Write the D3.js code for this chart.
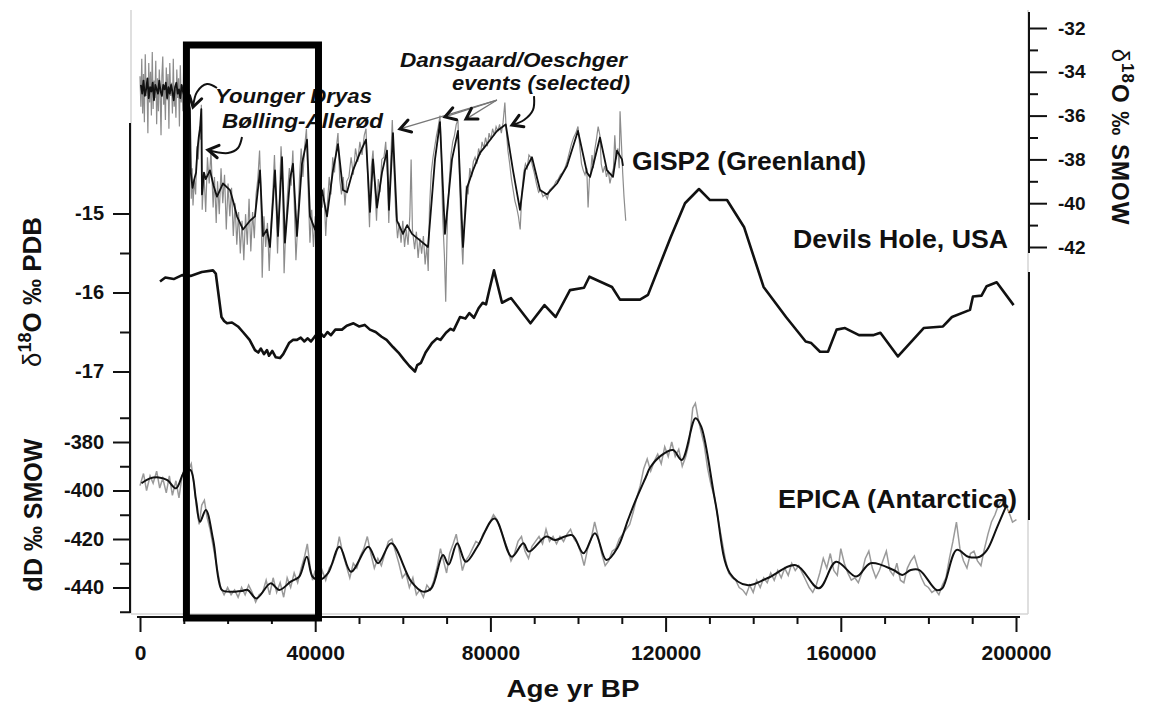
<!DOCTYPE html>
<html>
<head>
<meta charset="utf-8">
<script src="https://cdn.jsdelivr.net/npm/d3@7"></script>
<style>
  html, body { margin: 0; padding: 0; background: #fff; }
  svg { display: block; }
  text { font-family: "Liberation Sans", Arial, sans-serif; }
</style>
</head>
<body>
<svg id="chart" width="1149" height="704"></svg>
<script>
// ---------- data: [age yr BP, value] ----------

// GISP2 (Greenland) δ18O ‰ SMOW, raw record
const gispRaw = [
  [0,-34.2],[200,-35.6],[400,-33.4],[600,-35.9],[800,-34.1],[1000,-36.3],[1200,-33.2],[1400,-35.1],[1600,-34.6],[1800,-36.8],
  [2000,-33.6],[2200,-35.4],[2400,-34.0],[2600,-36.0],[2800,-33.1],[3000,-35.7],[3200,-34.4],[3400,-35.2],[3600,-33.5],[3800,-36.4],
  [4000,-34.3],[4200,-35.8],[4400,-33.9],[4600,-35.0],[4800,-36.9],[5000,-34.2],[5200,-33.3],[5400,-35.5],[5600,-34.7],[5800,-36.2],
  [6000,-33.8],[6200,-35.3],[6400,-34.1],[6600,-36.6],[6800,-33.6],[7000,-35.1],[7200,-34.5],[7400,-35.9],[7600,-33.4],[7800,-35.6],
  [8000,-34.8],[8200,-36.1],[8400,-33.9],[8600,-35.2],[8800,-34.3],[9000,-36.5],[9200,-33.7],[9400,-35.4],[9600,-34.6],[9800,-35.8],
  [10000,-33.5],[10200,-36.0],[10400,-34.9],[10600,-35.3],[10800,-34.2],[11000,-36.7],[11200,-34.8],
  [11300,-35.2],[11500,-37.5],[11700,-39.8],[11900,-38.4],[12100,-40.1],[12400,-38.9],[12700,-39.6],[13000,-37.4],[13300,-38.0],[13600,-36.5],
  [13900,-37.1],[14000,-35.5],[14100,-36.4],[14200,-40.3],[14600,-38.6],[15000,-40.4],[15400,-37.9],[15800,-39.1],[16200,-37.6],[16700,-40.2],
  [17000,-38.8],[17400,-40.9],[17700,-39.0],[18100,-40.5],[18500,-38.4],[18900,-40.0],[19300,-38.7],[19700,-41.2],[20100,-39.1],[20500,-40.6],
  [20900,-39.3],[21300,-41.5],[21700,-40.0],[22100,-41.9],[22500,-40.4],[22900,-42.3],[23300,-40.8],[23700,-42.6],[24100,-40.5],[24500,-41.9],
  [24900,-39.8],[25300,-42.2],[25700,-40.4],[26100,-41.6],[26500,-39.6],[26900,-38.9],[27300,-37.6],[27600,-39.4],[27900,-43.4],[28300,-40.6],
  [28700,-42.0],[29100,-40.9],[29500,-43.1],[29900,-41.0],[30300,-39.6],[30700,-37.8],[31000,-39.5],[31400,-42.3],[31800,-40.0],[32200,-37.4],
  [32500,-38.6],[32900,-43.2],[33300,-41.0],[33700,-39.5],[34100,-38.4],[34500,-39.2],[34900,-37.6],[35200,-39.9],[35600,-42.6],[36000,-41.0],
  [36400,-38.9],[36800,-37.5],[37200,-38.8],[37600,-37.4],[38000,-36.6],[38400,-39.4],[38800,-41.8],[39200,-40.3],[39600,-42.0],[40000,-40.6],
  [40400,-41.9],[40800,-39.6],[41200,-38.9],[41600,-40.2],[42000,-39.3],[42400,-41.5],[42800,-40.0],[43200,-38.8],[43600,-39.6],[44000,-37.9],
  [44400,-38.6],[44800,-37.5],[45200,-36.8],[45600,-38.9],[46000,-39.6],[46400,-38.8],[46800,-40.1],[47200,-39.0],[47700,-38.8],[48200,-37.9],
  [48700,-38.7],[49200,-37.5],[49700,-38.1],[50200,-37.2],[50700,-37.8],[51200,-36.9],[51600,-36.6],[52000,-38.9],[52400,-41.1],[52800,-38.4],
  [53200,-37.6],[53600,-39.2],[54000,-40.8],[54400,-38.9],[54800,-39.5],[55200,-38.0],[55700,-37.9],[56100,-37.2],[56500,-38.8],[56800,-40.9],
  [57200,-38.3],[57600,-36.2],[58000,-38.5],[58400,-40.5],[58800,-41.6],[59200,-40.9],[59600,-41.8],[60000,-40.8],[60400,-42.0],[60800,-41.2],
  [61200,-41.9],[61600,-40.6],[61900,-38.0],[62200,-41.2],[62700,-42.1],[63100,-41.3],[63500,-42.5],[63900,-41.6],[64300,-42.3],[64700,-41.5],
  [65100,-42.8],[65500,-41.9],[65800,-43.1],[66100,-40.2],[66500,-38.6],[66900,-37.9],[67300,-37.4],[67700,-36.9],[68100,-36.5],[68500,-36.0],
  [68800,-37.8],[69100,-40.6],[69500,-42.4],[69800,-44.5],[70200,-40.5],[70600,-39.0],[71000,-37.8],[71400,-37.2],[71800,-36.9],[72200,-36.4],
  [72600,-36.2],[72900,-38.6],[73300,-41.1],[73700,-42.8],[74100,-40.6],[74500,-39.2],[74900,-39.6],[75300,-38.4],[75700,-38.8],[76100,-38.1],
  [76500,-37.9],[76900,-38.2],[77300,-37.5],[77700,-37.8],[78100,-37.2],[78500,-37.5],[78900,-37.0],[79300,-37.4],[79700,-36.8],[80100,-37.1],
  [80500,-36.6],[80900,-36.9],[81300,-36.5],[81700,-36.7],[82100,-36.4],[82500,-36.8],[82900,-36.3],[83300,-35.4],[83600,-36.6],[84000,-37.6],
  [84400,-38.2],[84800,-38.9],[85200,-39.4],[85600,-39.9],[86000,-40.2],[86400,-40.6],[86800,-41.2],[87200,-39.5],[87600,-38.6],[88000,-38.2],
  [88400,-38.4],[88800,-37.8],[89200,-37.9],[89600,-38.3],[90000,-38.6],[90500,-39.1],[91000,-39.5],[91500,-39.4],[92000,-39.7],[92500,-39.6],
  [93000,-39.8],[93500,-39.4],[94000,-39.3],[94500,-39.2],[95000,-39.0],[95500,-38.9],[96000,-38.7],[96500,-38.6],[97000,-38.4],[97500,-38.1],
  [98000,-37.7],[98500,-37.3],[99000,-37.0],[99500,-36.8],[100000,-36.5],[100400,-37.4],[100800,-38.2],[101200,-38.5],[101600,-38.7],[102000,-38.4],
  [102300,-40.2],[102600,-38.9],[102900,-38.6],[103200,-37.8],[103500,-38.4],[103800,-37.6],[104200,-37.1],[104600,-36.5],[105000,-36.9],[105300,-38.2],
  [105700,-38.6],[106100,-38.3],[106500,-38.8],[106900,-38.5],[107300,-39.1],[107700,-38.7],[108100,-38.4],[108400,-36.9],[108700,-38.0],[109100,-37.5],
  [109400,-38.4],[109600,-35.8],[109900,-37.2],[110200,-38.6],[110500,-39.7],[110900,-40.8]
];

// GISP2 smoothed curve
const gispSmooth = [
  [200,-34.6],[500,-35.0],[800,-34.4],[1100,-35.1],[1400,-34.8],[1700,-34.3],[2000,-35.2],[2300,-34.7],[2600,-34.9],[2900,-34.5],
  [3200,-35.3],[3500,-34.6],[3800,-34.8],[4100,-35.0],[4400,-34.4],[4700,-34.9],[5000,-35.1],[5300,-34.6],[5600,-34.8],[5900,-34.5],
  [6200,-35.2],[6500,-34.7],[6800,-35.0],[7100,-34.6],[7400,-34.9],[7700,-35.3],[8000,-34.7],[8300,-34.5],[8600,-35.0],[8900,-34.8],
  [9200,-35.2],[9500,-34.6],[9800,-34.9],[10100,-35.1],[10400,-34.7],[10700,-35.0],[11000,-35.3],
  [11400,-35.7],[11600,-38.6],[12000,-39.3],[12400,-38.9],[12800,-38.6],[13100,-37.6],[13400,-37.0],[13700,-36.6],[14000,-35.7],
  [14150,-39.6],[14600,-38.6],[15000,-38.9],[15980,-38.5],[16800,-39.2],[17580,-39.7],[18950,-39.1],[20550,-39.4],[21400,-40.0],[22150,-40.6],
  [23510,-41.2],[25110,-40.8],[26250,-40.6],[27400,-38.5],[28080,-41.5],[28990,-41.2],[29680,-42.0],[30820,-38.5],[31510,-41.5],[32420,-37.9],
  [33100,-41.8],[34250,-38.9],[34930,-38.2],[35840,-41.5],[36980,-38.2],[38130,-37.1],[38810,-40.6],[39950,-41.2],[41550,-39.4],[42690,-40.6],
  [44060,-38.5],[45200,-37.3],[46340,-39.4],[47260,-39.5],[48630,-38.5],[50230,-37.7],[51600,-37.1],[52510,-40.4],[53190,-38.0],[54110,-40.2],
  [55250,-38.6],[56390,-37.6],[56850,-40.3],[57760,-36.8],[58670,-40.8],[60040,-41.4],[61000,-41.0],[62100,-41.4],[63920,-41.7],[65750,-42.0],
  [67350,-38.0],[68490,-36.3],[69630,-41.4],[71230,-38.0],[72600,-36.7],[73740,-42.0],[74650,-39.3],[76020,-38.5],[77620,-37.7],[79220,-37.3],
  [81500,-36.7],[82870,-36.5],[83500,-36.4],[85160,-38.5],[86750,-40.3],[87900,-38.5],[89490,-37.9],[91320,-39.4],[92920,-39.6],[95200,-39.1],
  [97480,-38.3],[99990,-36.7],[102050,-38.6],[102740,-38.8],[103420,-38.3],[105020,-37.0],[106620,-38.5],[107990,-38.8],[108900,-37.6],[110040,-38.0],
  [110270,-38.3]
];

// Devils Hole, USA δ18O ‰ PDB
const devilsHole = [
  [4570,-15.86],[5780,-15.81],[7700,-15.83],[9610,-15.78],[11530,-15.79],[14110,-15.74],[16670,-15.72],[17300,-15.76],[18600,-16.31],[19200,-16.36],
  [19860,-16.39],[21000,-16.38],[22370,-16.43],[23500,-16.50],[25020,-16.60],[26250,-16.73],[27000,-16.76],[27600,-16.71],[28300,-16.78],[29000,-16.73],
  [29450,-16.80],[30200,-16.74],[31000,-16.82],[31960,-16.83],[32700,-16.78],[34020,-16.64],[34900,-16.60],[35840,-16.60],[36700,-16.57],[37500,-16.62],
  [38300,-16.58],[39040,-16.62],[40000,-16.55],[41090,-16.51],[42000,-16.56],[42800,-16.50],[43600,-16.54],[44600,-16.47],[46100,-16.47],[47200,-16.42],
  [48740,-16.39],[50000,-16.43],[51300,-16.41],[52500,-16.47],[53800,-16.50],[55160,-16.56],[56300,-16.60],[57760,-16.69],[59000,-16.76],[60270,-16.85],
  [61500,-16.93],[62780,-17.00],[63300,-16.92],[64150,-16.89],[65200,-16.76],[66660,-16.64],[67800,-16.58],[68600,-16.60],[69860,-16.51],[70900,-16.46],
  [71600,-16.48],[73060,-16.31],[74300,-16.33],[75200,-16.26],[76250,-16.32],[77300,-16.20],[78240,-16.13],[79000,-16.15],[79700,-15.98],[80820,-15.72],
  [82650,-16.13],[84700,-16.07],[89150,-16.39],[92350,-16.16],[94900,-16.31],[98170,-15.97],[101370,-15.94],[102600,-15.80],[107760,-15.93],[109590,-16.09],
  [114150,-16.09],[115980,-16.03],[121230,-15.29],[124430,-14.87],[127620,-14.69],[130130,-14.83],[134020,-14.83],[137900,-15.17],[142370,-15.93],[147490,-16.31],
  [151980,-16.62],[153260,-16.64],[155250,-16.75],[157080,-16.75],[159040,-16.47],[160960,-16.45],[164150,-16.54],[167350,-16.54],[169040,-16.51],[173050,-16.81],
  [178920,-16.45],[183330,-16.43],[185380,-16.31],[189490,-16.22],[190170,-16.05],[192130,-16.04],[193300,-15.92],[195590,-15.87],[199450,-16.16]
];

// EPICA (Antarctica) dD ‰ SMOW, raw record
const epicaRaw = [
  [0,-398],[800,-393],[1500,-400],[2300,-394],[3000,-397],[3800,-392],[4500,-399],[5200,-395],[6000,-401],[6700,-394],
  [7400,-402],[8200,-396],[8900,-403],[9600,-394],[10300,-390],[11000,-392],[11700,-389],[12300,-397],[12900,-407],[13500,-414],
  [14100,-406],[14700,-404],[15300,-411],[16000,-416],[16800,-424],[17600,-432],[18400,-440],[19200,-443],[20000,-440],[20800,-443],
  [21600,-441],[22400,-444],[23200,-440],[24000,-443],[24800,-439],[25600,-442],[26400,-446],[27200,-443],[28000,-442],[28800,-437],
  [29600,-443],[30400,-436],[31200,-442],[32000,-438],[32800,-444],[33600,-436],[34400,-440],[35200,-434],[36000,-438],[36800,-432],
  [37600,-427],[38200,-422],[38800,-431],[39400,-437],[40000,-433],[40800,-440],[41600,-433],[42400,-437],[43200,-432],[44000,-430],
  [44800,-426],[45500,-419],[46300,-426],[47100,-431],[47900,-436],[48700,-430],[49500,-432],[50300,-427],[51100,-424],[51900,-419],
  [52700,-426],[53500,-432],[54300,-428],[55100,-431],[55900,-426],[56700,-421],[57500,-420],[58300,-425],[59100,-430],[59900,-436],
  [60700,-434],[61500,-440],[62300,-436],[63100,-443],[63900,-441],[64700,-444],[65500,-439],[66300,-441],[67100,-437],[67900,-431],
  [68600,-424],[69300,-429],[70000,-434],[70700,-426],[71500,-422],[72200,-418],[72900,-425],[73600,-433],[74300,-429],[75100,-427],
  [75900,-424],[76700,-421],[77500,-422],[78300,-418],[79100,-416],[79900,-413],[80700,-410],[81500,-412],[82300,-416],[83100,-420],
  [83900,-424],[84700,-429],[85500,-426],[86300,-421],[87100,-419],[87900,-425],[88700,-428],[89500,-423],[90300,-421],[91100,-419],
  [91900,-422],[92700,-416],[93500,-421],[94300,-419],[95100,-422],[95900,-419],[96700,-421],[97500,-418],[98300,-416],[99100,-420],
  [99900,-422],[100700,-426],[101400,-431],[102200,-424],[103000,-420],[103800,-413],[104600,-419],[105400,-426],[106200,-431],[107000,-429],
  [107800,-425],[108600,-424],[109400,-420],[110200,-418],[111000,-416],[111800,-414],[112600,-409],[113400,-403],[114200,-398],[115000,-391],
  [115800,-387],[116600,-392],[117400,-388],[118200,-385],[119000,-389],[119800,-382],[120600,-386],[121400,-380],[122200,-386],[123000,-383],
  [123800,-390],[124600,-386],[125400,-380],[126200,-366],[126800,-364],[127400,-370],[128000,-375],[128800,-381],[129600,-391],[130400,-398],
  [131200,-403],[132000,-412],[132800,-420],[133600,-428],[134400,-434],[135200,-436],[136000,-437],[136800,-440],[137600,-441],[138400,-443],
  [139200,-439],[140000,-442],[140800,-437],[141600,-440],[142400,-436],[143200,-438],[144000,-434],[144800,-437],[145600,-433],[146400,-436],
  [147200,-432],[148000,-435],[148800,-430],[149600,-433],[150400,-431],[151200,-434],[152000,-437],[152800,-440],[153600,-442],[154400,-439],
  [155200,-434],[156000,-428],[156800,-432],[157600,-426],[158400,-433],[159200,-435],[160000,-424],[160800,-430],[161600,-434],[162400,-437],
  [163200,-436],[164000,-438],[164800,-434],[165600,-428],[166400,-425],[167200,-432],[168000,-436],[168800,-433],[169600,-429],[170400,-425],
  [171200,-433],[172000,-435],[172800,-430],[173600,-437],[174400,-438],[175200,-432],[176000,-429],[176800,-427],[177600,-432],[178400,-436],
  [179200,-439],[180000,-440],[180800,-442],[181600,-441],[182400,-443],[183200,-439],[184000,-436],[184800,-428],[185600,-421],[186400,-413],
  [187200,-424],[188000,-429],[188800,-432],[189600,-426],[190400,-425],[191200,-429],[192000,-431],[192800,-424],[193600,-418],[194400,-413],
  [195200,-410],[196000,-406],[196800,-404],[197600,-406],[198400,-409],[199200,-413],[200100,-412]
];

// EPICA smoothed curve
const epicaSmooth = [
  [340,-397.0],[2280,-395.0],[4270,-394.6],[6240,-395.7],[8220,-399.1],[10160,-392.2],[11490,-391.5],[12790,-403.9],[13700,-412.9],[15030,-408.0],
  [16710,-420.4],[18680,-441.0],[20000,-441.7],[23290,-441.4],[24590,-441.0],[26550,-444.5],[29820,-438.3],[31800,-441.0],[34410,-437.6],[36370,-435.5],
  [38080,-427.3],[39380,-435.5],[40960,-436.9],[42920,-434.1],[45550,-423.2],[48170,-433.5],[52100,-423.2],[54340,-430.0],[57350,-421.8],[61940,-437.6],
  [64560,-441.7],[66530,-440.3],[69160,-426.6],[70460,-430.5],[72420,-421.8],[74390,-429.4],[77010,-423.2],[80940,-411.5],[84870,-427.3],[87490,-421.8],
  [88810,-425.2],[92740,-419.0],[94700,-420.4],[98630,-418.4],[101250,-425.9],[103880,-417.6],[106500,-428.7],[109130,-423.2],[111400,-412.2],[113060,-404.5],
  [115700,-393.6],[116400,-390.7],[119100,-385.4],[121700,-383.3],[123700,-387.4],[126820,-370.2],[128130,-373.7],[131400,-405.3],[134680,-434.1],[138610,-439.0],
  [143200,-436.2],[149750,-430.8],[155000,-440.3],[158930,-429.4],[163520,-435.5],[166790,-430.0],[172040,-432.8],[174010,-434.8],[175970,-432.8],[177940,-432.8],
  [181870,-441.0],[183190,-440.3],[186470,-424.5],[189090,-427.3],[191710,-427.3],[193400,-424.5],[195700,-415.1],[197900,-405.8]
];

// axis ticks
const ageTicks = [0, 40000, 80000, 120000, 160000, 200000];
const ageMinorTicks = [10000, 20000, 30000, 50000, 60000, 70000, 90000, 100000, 110000, 130000, 140000, 150000, 170000, 180000, 190000];
const dhTicks = [-15, -16, -17];
const dhMinorTicks = [-15.5, -16.5];
const epTicks = [-380, -400, -420, -440];
const epMinorTicks = [-370, -390, -410, -430, -450];
const giTicks = [-32, -34, -36, -38, -40, -42];
const giMinorTicks = [-33, -35, -37, -39, -41];

// highlighted interval (yr BP)
const boxAges = [10600, 40750];

// ---------- scales ----------
const svg = d3.select("#chart");
const FONT = '"Liberation Sans", Arial, sans-serif';
const INK = "#111";

const x = d3.scaleLinear().domain([0, 200000]).range([140, 1016]);
const yDH = d3.scaleLinear().domain([-15, -17]).range([213.5, 371.5]);
const yEP = d3.scaleLinear().domain([-380, -440]).range([442, 587.5]);
const yGI = d3.scaleLinear().domain([-32, -42]).range([28, 247]);

// ---------- frame ----------
const frame = svg.append("g").attr("stroke", "#d4d4d4").attr("stroke-width", 1.5).attr("fill", "none");
frame.append("line").attr("x1", 131).attr("x2", 131).attr("y1", 10).attr("y2", 614);
frame.append("line").attr("x1", 131).attr("x2", 1028).attr("y1", 614).attr("y2", 614);
frame.append("line").attr("x1", 1028).attr("x2", 1028).attr("y1", 10).attr("y2", 614);

function styleAxis(g, size) {
  g.select(".domain").remove();
  g.selectAll(".tick line").attr("stroke", INK).attr("stroke-width", 2);
  g.selectAll(".tick text")
    .attr("fill", INK)
    .style("font-size", size + "px")
    .style("font-weight", "bold")
    .style("font-family", FONT);
}

// ---------- x axis ----------
svg.append("g").attr("transform", "translate(0,617)")
  .call(d3.axisBottom(x).tickValues(ageMinorTicks).tickSize(7).tickFormat(""))
  .call(g => styleAxis(g, 21));
svg.append("g").attr("transform", "translate(0,617)")
  .call(d3.axisBottom(x).tickValues(ageTicks).tickSize(15).tickPadding(13).tickFormat(d => String(d)))
  .call(g => styleAxis(g, 21));
svg.append("line").attr("x1", 137).attr("x2", 1020).attr("y1", 617).attr("y2", 617)
  .attr("stroke", INK).attr("stroke-width", 2);

svg.append("text").attr("x", 573).attr("y", 697).attr("text-anchor", "middle")
  .attr("textLength", 133).attr("lengthAdjust", "spacingAndGlyphs")
  .style("font-size", "24px").style("font-weight", "bold").attr("fill", INK)
  .text("Age yr BP");

// ---------- left axes ----------
svg.append("line").attr("x1", 130).attr("x2", 130).attr("y1", 123).attr("y2", 613)
  .attr("stroke", INK).attr("stroke-width", 2);

svg.append("g").attr("transform", "translate(130,0)")
  .call(d3.axisLeft(yDH).tickValues(dhMinorTicks).tickSize(10).tickFormat(""))
  .call(g => styleAxis(g, 20));
svg.append("g").attr("transform", "translate(130,0)")
  .call(d3.axisLeft(yDH).tickValues(dhTicks).tickSize(17).tickPadding(9).tickFormat(d => String(d)))
  .call(g => styleAxis(g, 20));
svg.append("g").attr("transform", "translate(130,0)")
  .call(d3.axisLeft(yEP).tickValues(epMinorTicks).tickSize(10).tickFormat(""))
  .call(g => styleAxis(g, 20));
svg.append("g").attr("transform", "translate(130,0)")
  .call(d3.axisLeft(yEP).tickValues(epTicks).tickSize(17).tickPadding(9).tickFormat(d => String(d)))
  .call(g => styleAxis(g, 20));

// δ18O ‰ PDB
const t1 = svg.append("text").attr("transform", "translate(41,292) rotate(-90)")
  .attr("text-anchor", "middle").attr("fill", INK).style("font-size", "26px");
t1.append("tspan").text("δ").style("font-weight", "normal");
t1.append("tspan").text("18").style("font-weight", "bold").style("font-size", "18px").attr("dy", -10);
t1.append("tspan").text("O ‰ PDB").style("font-weight", "bold").attr("dy", 10);

// dD ‰ SMOW
svg.append("text").attr("transform", "translate(42,515) rotate(-90)")
  .attr("text-anchor", "middle").attr("fill", INK)
  .style("font-size", "25px").style("font-weight", "bold")
  .text("dD ‰ SMOW");

// ---------- right axis ----------
svg.append("line").attr("x1", 1029).attr("x2", 1029).attr("y1", 12).attr("y2", 253)
  .attr("stroke", INK).attr("stroke-width", 2);
svg.append("line").attr("x1", 1029).attr("x2", 1029).attr("y1", 272).attr("y2", 520)
  .attr("stroke", INK).attr("stroke-width", 2);

svg.append("g").attr("transform", "translate(1029,0)")
  .call(d3.axisRight(yGI).tickValues(giMinorTicks).tickSize(9).tickFormat(""))
  .call(g => styleAxis(g, 19));
svg.append("g").attr("transform", "translate(1029,0)")
  .call(d3.axisRight(yGI).tickValues(giTicks).tickSize(18).tickPadding(11).tickFormat(d => String(d)))
  .call(g => styleAxis(g, 19));

const t2 = svg.append("text").attr("transform", "translate(1112,137) rotate(90)")
  .attr("text-anchor", "middle").attr("fill", INK).style("font-size", "24px")
  .style("letter-spacing", "1px");
t2.append("tspan").text("δ").style("font-weight", "normal");
t2.append("tspan").text("18").style("font-weight", "bold").style("font-size", "17px").attr("dy", -10);
t2.append("tspan").text("O ‰ SMOW").style("font-weight", "bold").attr("dy", 10);

// ---------- series ----------
const lineGI = d3.line().x(d => x(d[0])).y(d => yGI(d[1]));
const lineDH = d3.line().x(d => x(d[0])).y(d => yDH(d[1]));
const lineEP = d3.line().x(d => x(d[0])).y(d => yEP(d[1]));
const lineEPs = d3.line().x(d => x(d[0])).y(d => yEP(d[1])).curve(d3.curveCatmullRom.alpha(0.5));

svg.append("path").datum(gispRaw).attr("d", lineGI)
  .attr("fill", "none").attr("stroke", "#8c8c8c").attr("stroke-width", 1.2);
svg.append("path").datum(gispSmooth).attr("d", lineGI)
  .attr("fill", "none").attr("stroke", INK).attr("stroke-width", 1.8).attr("stroke-linejoin", "round");

svg.append("path").datum(devilsHole).attr("d", lineDH)
  .attr("fill", "none").attr("stroke", INK).attr("stroke-width", 2.6).attr("stroke-linejoin", "round");

svg.append("path").datum(epicaRaw).attr("d", lineEP)
  .attr("fill", "none").attr("stroke", "#9a9a9a").attr("stroke-width", 1.5);
svg.append("path").datum(epicaSmooth).attr("d", lineEPs)
  .attr("fill", "none").attr("stroke", INK).attr("stroke-width", 2);

// ---------- series labels ----------
function label(txt, px, py, len) {
  svg.append("text").attr("x", px).attr("y", py)
    .attr("textLength", len).attr("lengthAdjust", "spacingAndGlyphs")
    .style("font-size", "25px").style("font-weight", "bold").attr("fill", INK)
    .text(txt);
}
label("GISP2 (Greenland)", 632, 170, 234);
label("Devils Hole, USA", 793, 248, 215);
label("EPICA (Antarctica)", 778, 508, 239);

// ---------- event annotations ----------
function note(txt, px, py, len) {
  svg.append("text").attr("x", px).attr("y", py)
    .attr("textLength", len).attr("lengthAdjust", "spacingAndGlyphs")
    .style("font-size", "21px").style("font-weight", "bold").style("font-style", "italic")
    .attr("fill", INK).text(txt);
}
note("Younger Dryas", 215, 103, 157);
note("Bølling-Allerød", 222, 128, 161);
note("Dansgaard/Oeschger", 400, 67, 227);
note("events (selected)", 452, 90, 178);

const P = d => [x(d[0]), yGI(d[1])];

function chevron(tip, from, len, spread) {
  const a = Math.atan2(tip[1] - from[1], tip[0] - from[0]);
  const p1 = [tip[0] - len * Math.cos(a - spread), tip[1] - len * Math.sin(a - spread)];
  const p2 = [tip[0] - len * Math.cos(a + spread), tip[1] - len * Math.sin(a + spread)];
  svg.append("path").attr("d", `M${p1}L${tip}L${p2}`)
    .attr("fill", "none").attr("stroke", INK).attr("stroke-width", 3)
    .attr("stroke-linejoin", "miter").attr("stroke-linecap", "round");
}

// thin leaders from the D/O caption
const doOrigin = [81500, -35.29];
const doTips = [[59360, -36.61], [69635, -36.06], [74430, -36.16]];
doTips.forEach(t => {
  const o = P(doOrigin), p = P(t);
  svg.append("line").attr("x1", o[0]).attr("y1", o[1]).attr("x2", p[0]).attr("y2", p[1])
    .attr("stroke", "#777").attr("stroke-width", 1.3);
  chevron(p, o, 12, 0.55);
});

// curved arrows
const curve = d3.line().x(d => P(d)[0]).y(d => P(d)[1]).curve(d3.curveCatmullRom.alpha(0.5));
function curvedArrow(pts) {
  svg.append("path").datum(pts).attr("d", curve)
    .attr("fill", "none").attr("stroke", INK).attr("stroke-width", 2);
  chevron(P(pts[pts.length - 1]), P(pts[pts.length - 2]), 12, 0.55);
}
curvedArrow([[89955, -35.11], [89726, -35.74], [87671, -36.20], [84931, -36.43]]);
curvedArrow([[17580, -34.74], [15297, -34.56], [13014, -34.92], [12100, -35.61]]);
curvedArrow([[23288, -36.98], [22374, -37.48], [20091, -37.71], [15525, -37.57]]);

// ---------- highlighted interval ----------
svg.append("rect")
  .attr("x", x(boxAges[0])).attr("y", 45)
  .attr("width", x(boxAges[1]) - x(boxAges[0])).attr("height", 618 - 45)
  .attr("fill", "none").attr("stroke", "#000").attr("stroke-width", 7);
</script>
</body>
</html>
